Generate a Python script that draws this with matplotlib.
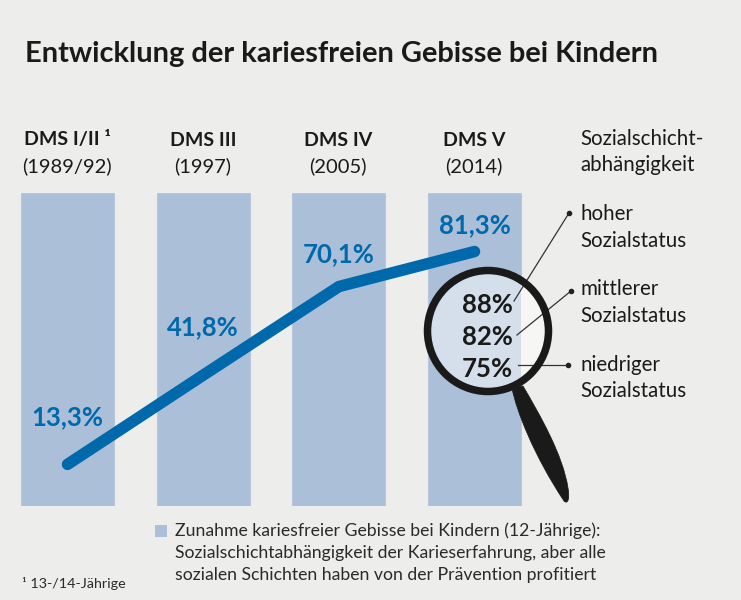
import numpy as np
import matplotlib
matplotlib.use("Agg")
import matplotlib.pyplot as plt
from matplotlib.patches import Circle, PathPatch, Rectangle
from matplotlib.path import Path

plt.rcParams["font.family"] = ["Lato", "DejaVu Sans"]

BG = "#ededec"
BAR = "#abbfd9"
BLUE = "#0069ab"
DARK = "#1a1a1a"
W, H = 741, 600

studies = ["DMS I/II ¹", "DMS III", "DMS IV", "DMS V"]
years = ["(1989/92)", "(1997)", "(2005)", "(2014)"]
values = [13.3, 41.8, 70.1, 81.3]
value_labels = ["13,3%", "41,8%", "70,1%", "81,3%"]
bar_full = [100, 100, 100, 100]
status_values = ["88%", "82%", "75%"]
status_labels = ["hoher\nSozialstatus", "mittlerer\nSozialstatus", "niedriger\nSozialstatus"]
legend_lines = [
    "Zunahme kariesfreier Gebisse bei Kindern (12-Jährige):",
    "Sozialschichtabhängigkeit der Karieserfahrung, aber alle",
    "sozialen Schichten haben von der Prävention profitiert",
]

fig = plt.figure(figsize=(W / 100, H / 100), dpi=100, facecolor=BG)

# chart axes: 0-100 % runs from y=506 px to y=193 px
step = 135.67
ax = fig.add_axes([0, (H - 506) / H, 1, 313 / H])
ax.set_xlim(-67.5 / step, (W - 67.5) / step)
ax.set_ylim(0, 100)
ax.axis("off")
x = np.arange(len(values))
ax.bar(x, bar_full, width=93 / step, color=BAR, edgecolor="#b7c8de", linewidth=0.8)
ax.plot(x, values, color=BLUE, lw=8.3, solid_capstyle="round", solid_joinstyle="round", zorder=3)

label_dy = [15, 15.2, 10.5, 8.3]
for i, v in enumerate(values):
    ax.text(i, v + label_dy[i], value_labels[i], color=BLUE, fontsize=18.5,
            fontweight="bold", ha="center", va="center", zorder=4)

# overlay in pixel coordinates for text and the magnifier
ov = fig.add_axes([0, 0, 1, 1])
ov.set_xlim(0, W)
ov.set_ylim(H, 0)
ov.axis("off")
ov.patch.set_alpha(0)

ov.text(25, 54, "Entwicklung der kariesfreien Gebisse bei Kindern", fontsize=20.9, fontweight="bold",
        color=DARK, ha="left", va="center")

head_x = [67, 203, 338, 474]
for hx, s, y in zip(head_x, studies, years):
    ov.text(hx, 140, s, fontsize=14, fontweight="bold", color=DARK, ha="center", va="center")
    ov.text(hx, 166, y, fontsize=14.5, color=DARK, ha="center", va="center")
ov.text(580, 139, "Sozialschicht-", fontsize=14.8, color=DARK, ha="left", va="center")
ov.text(580, 165, "abhängigkeit", fontsize=14.8, color=DARK, ha="left", va="center")

# magnifier
cx, cy = 488, 331
lens = Circle((cx, cy), 60, facecolor="#f6f6f5", edgecolor="none", zorder=5)
ov.add_patch(lens)
tint = Rectangle((400, 250), 121, 170, facecolor="#d5dfec", edgecolor="none", zorder=5.1)
ov.add_patch(tint)
tint.set_clip_path(lens)

handle = Path(
    [(512, 388), (516, 410), (534, 456), (564, 501), (568, 505), (570, 498), (568, 488),
     (563, 455), (540, 415), (523, 386), (512, 388)],
    [Path.MOVETO, Path.CURVE4, Path.CURVE4, Path.CURVE4, Path.CURVE4, Path.CURVE4, Path.CURVE4,
     Path.CURVE4, Path.CURVE4, Path.CURVE4, Path.CLOSEPOLY],
)
ov.add_patch(PathPatch(handle, facecolor=DARK, edgecolor=DARK, lw=0.5, zorder=6))

# leader lines
leaders_from = [(514, 301), (517, 335), (518, 365)]
leaders_to = [(569, 213), (571, 291), (568, 365)]
for (x0, y0), (x1, y1) in zip(leaders_from, leaders_to):
    ov.plot([x0, x1], [y0, y1], color="#333333", lw=0.9, zorder=5.5)
    ov.plot([x1], [y1], "o", color="#222222", ms=3, zorder=5.5)

ov.add_patch(Circle((cx, cy), 60.5, facecolor="none", edgecolor=DARK, lw=5.4, zorder=7))

for v, y in zip(status_values, [305, 337, 369]):
    ov.text(487, y, v, fontsize=18.5, fontweight="bold", color=DARK, ha="center", va="center", zorder=8)

for lab, y in zip(status_labels, [227.5, 302.5, 378]):
    ov.text(580, y, lab, fontsize=14.8, color=DARK, ha="left", va="center", linespacing=1.4)

# legend and footnote
ov.add_patch(Rectangle((155, 525), 12, 12, facecolor=BAR, edgecolor="none"))
for line, y in zip(legend_lines, [531, 553, 575]):
    ov.text(175, y, line, fontsize=12.7, color="#2a2a2a", ha="left", va="center")
ov.text(22, 583, "¹ 13-/14-Jährige", fontsize=10.3, color="#2a2a2a", ha="left", va="center")

fig.savefig("out.png", dpi=100, facecolor=BG)
